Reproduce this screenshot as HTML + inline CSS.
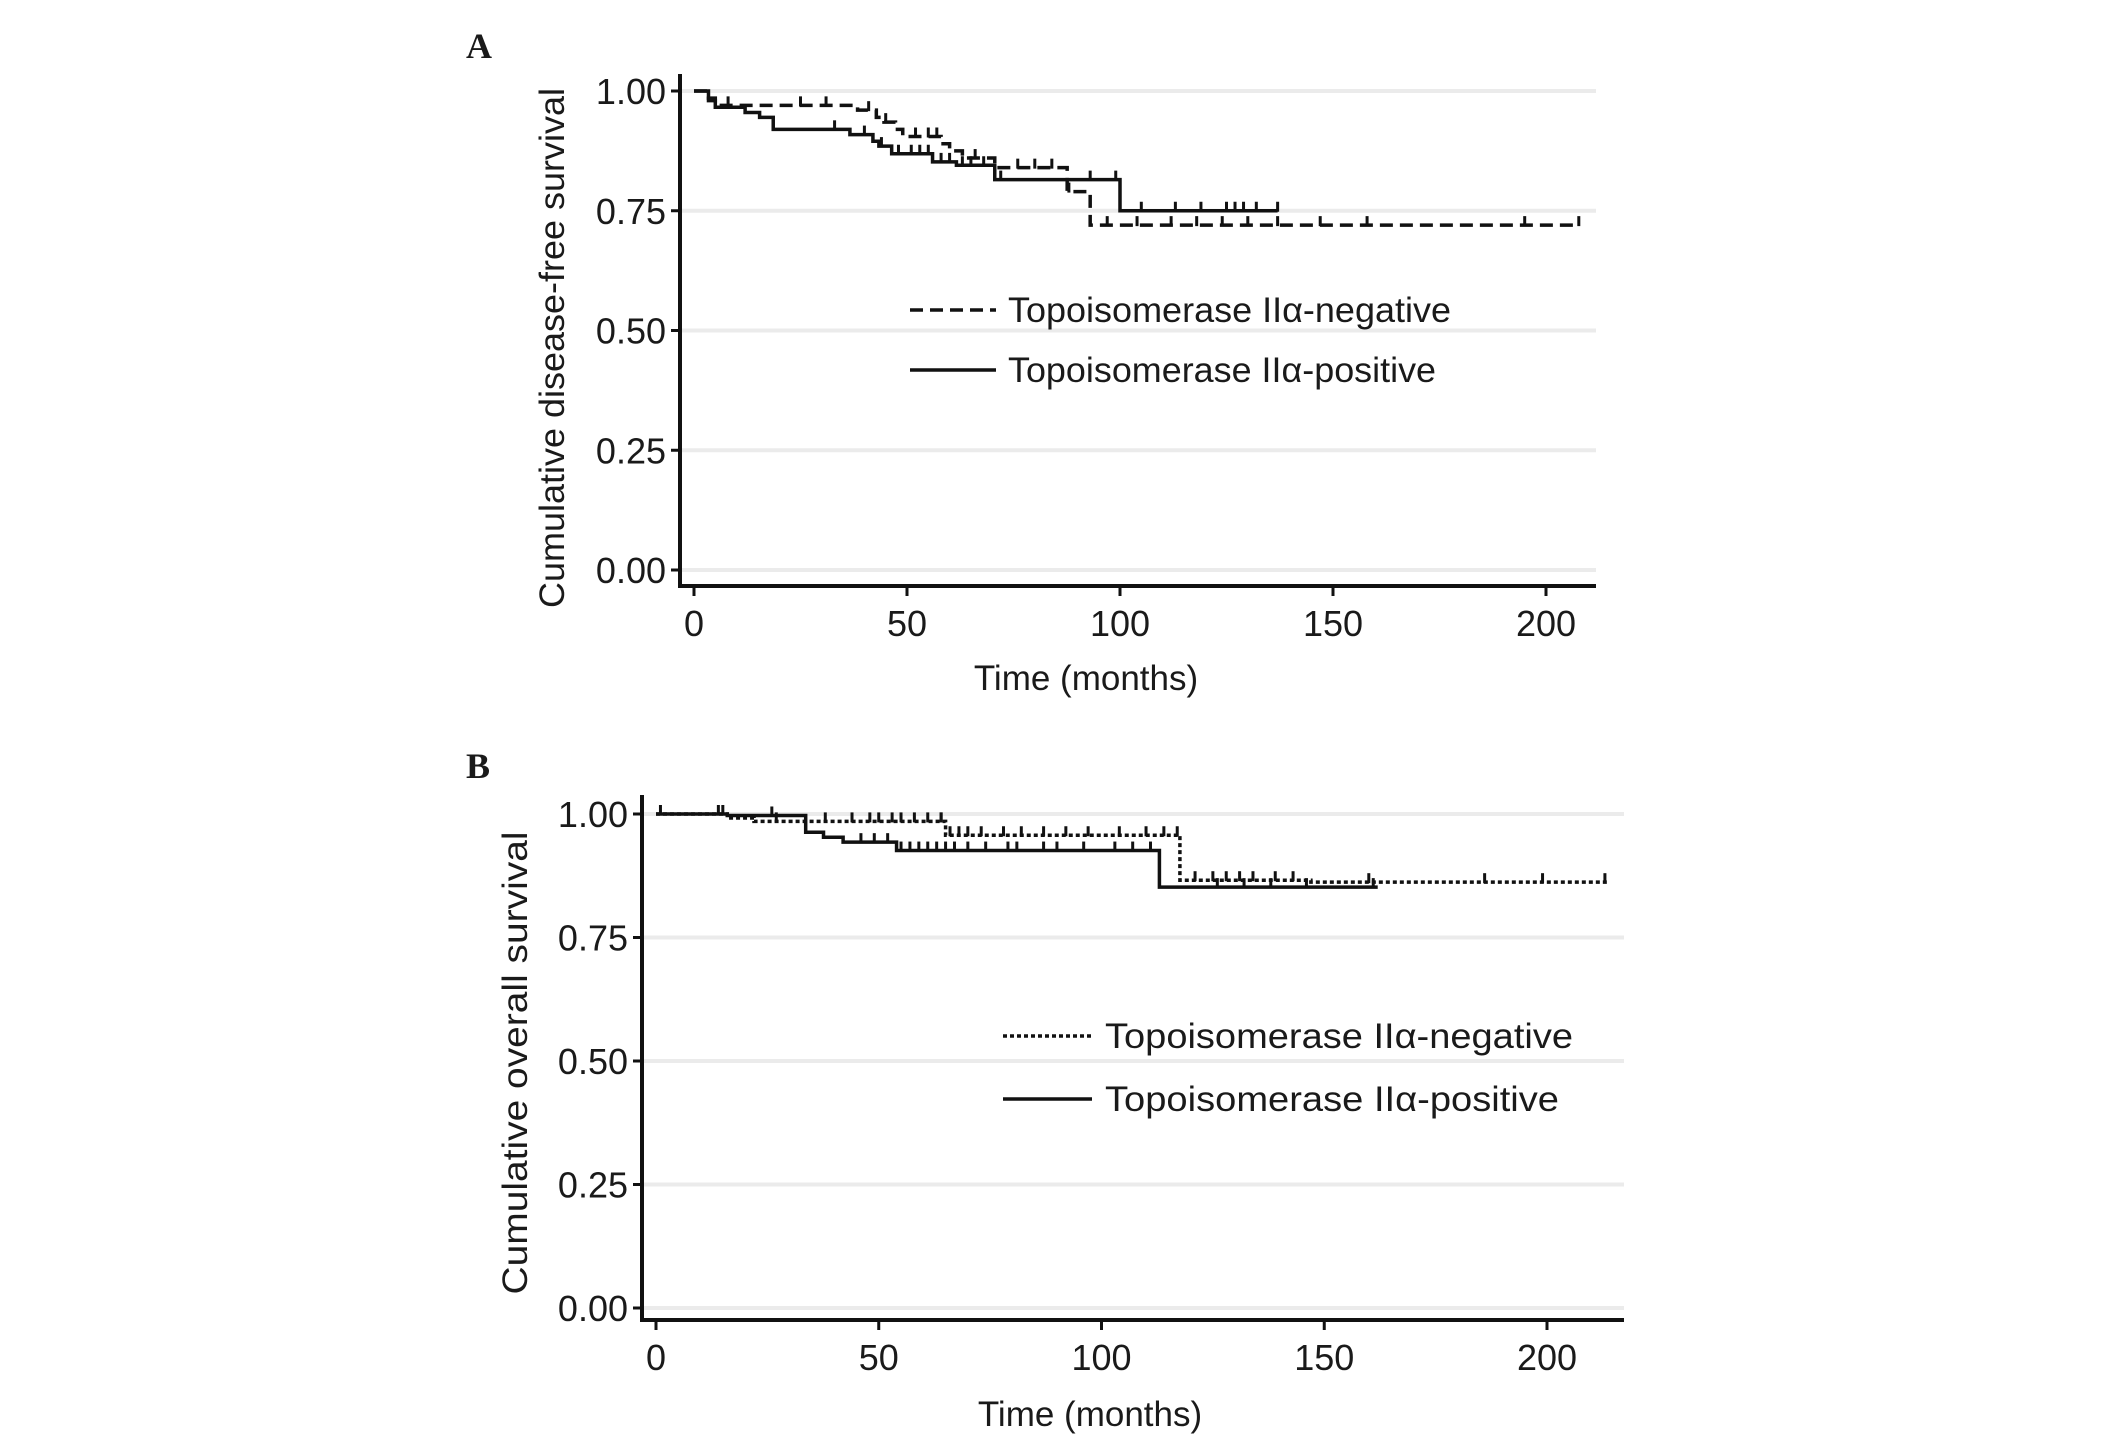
<!DOCTYPE html>
<html><head><meta charset="utf-8"><style>
html,body{margin:0;padding:0;background:#fff}
svg{display:block}
text{font-family:"Liberation Sans",Arial,sans-serif;fill:#1a1a1a}
</style></head><body>
<svg id="fig" width="2126" height="1442" viewBox="0 0 2126 1442"></svg>
<script>
// ---- Panel A data ----
const aTicksX = [0, 50, 100, 150, 200];
const aTicksY = [0, 0.25, 0.5, 0.75, 1.0];
const aTickLabelsY = ["0.00", "0.25", "0.50", "0.75", "1.00"];
const aNegTimes = [0, 3.4, 5, 38.4, 42.8, 44.6, 47.3, 49, 58, 60, 63, 70.6, 87.6, 93, 207.7];
const aNegSurv  = [1.0, 0.985, 0.97, 0.96, 0.945, 0.935, 0.92, 0.905, 0.89, 0.875, 0.86, 0.84, 0.79, 0.72, 0.72];
const aPosTimes = [0, 3.4, 5, 12, 15.4, 18.6, 36.6, 42, 43.4, 46.4, 56, 61.6, 70.6, 100, 137];
const aPosSurv  = [1.0, 0.98, 0.966, 0.955, 0.945, 0.92, 0.909, 0.895, 0.885, 0.869, 0.852, 0.845, 0.815, 0.75, 0.75];
const aNegCensor = [8, 25, 31, 41, 45, 52, 55, 57, 66, 76, 80, 84, 88, 97, 104, 112, 118, 124, 130, 137, 147, 158, 195, 207.7];
const aPosCensor = [33, 40, 44, 48, 51, 53, 55, 58, 60, 63, 65, 68, 72, 93, 99, 105, 113, 119, 125, 127, 129, 132, 137];
// ---- Panel B data ----
const bTicksX = [0, 50, 100, 150, 200];
const bTicksY = [0, 0.25, 0.5, 0.75, 1.0];
const bTickLabelsY = ["0.00", "0.25", "0.50", "0.75", "1.00"];
const bNegTimes = [0, 16, 22, 65, 117.6, 147, 214];
const bNegSurv  = [1.0, 0.992, 0.985, 0.957, 0.866, 0.862, 0.862];
const bPosTimes = [0, 16, 33.6, 37.6, 42, 54, 113, 162];
const bPosSurv  = [1.0, 0.997, 0.963, 0.953, 0.943, 0.926, 0.852, 0.852];
const bNegCensor = [1, 14, 27, 38, 44, 48, 50, 53, 55, 58, 61, 64, 66, 64, 68, 70, 73, 78, 82, 87, 92, 97, 104, 110, 114, 117, 121, 125, 128, 131, 134, 139, 143, 160, 186, 199, 213];
const bPosCensor = [15, 26, 46, 49, 52, 55, 57, 59, 61, 63, 65, 67, 70, 74, 79, 81, 87, 90, 96, 103, 107, 111, 126, 132, 138, 146, 161];

const NS = "http://www.w3.org/2000/svg";
const svg = document.getElementById('fig');
function mk(tag, attrs, parent) {
  const e = document.createElementNS(NS, tag);
  for (const k in attrs) e.setAttribute(k, attrs[k]);
  (parent || svg).appendChild(e);
  return e;
}

function panel(cfg) {
  const g = mk('g', {});
  
  
  const sx = t => cfg.x0 + t * cfg.pxPerMonth;
  const sy = v => cfg.y0 - v * cfg.pxPerUnit;
  cfg.ticksY.forEach((v, i) => {
    const l = mk('line', {x1: cfg.axisX, x2: cfg.xEnd, y1: sy(v), y2: sy(v), stroke: '#ebebeb', 'stroke-width': 4}, g);
    
    
  });
  cfg.ticksY.forEach((v, i) => {
    const tk = mk('line', {x1: cfg.axisX - 9, x2: cfg.axisX, y1: sy(v), y2: sy(v), stroke: '#111', 'stroke-width': 3}, g);
    
    
    const t = mk('text', {x: cfg.axisX - 14, y: sy(v) + 13, 'text-anchor': 'end', 'font-size': 36}, g);
    t.textContent = cfg.tickLabelsY[i];
    
    
  });
  cfg.ticksX.forEach(m => {
    const tk = mk('line', {x1: sx(m), x2: sx(m), y1: cfg.axisY, y2: cfg.axisY + 10, stroke: '#111', 'stroke-width': 3}, g);
    
    
    const t = mk('text', {x: sx(m), y: cfg.axisY + 50, 'text-anchor': 'middle', 'font-size': 36}, g);
    t.textContent = String(m);
    
    
  });
  const ya = mk('line', {x1: cfg.axisX, x2: cfg.axisX, y1: cfg.yTop, y2: cfg.axisY + 2, stroke: '#111', 'stroke-width': 4}, g);
  
  
  const xa = mk('line', {x1: cfg.axisX - 2, x2: cfg.xEnd, y1: cfg.axisY, y2: cfg.axisY, stroke: '#111', 'stroke-width': 4}, g);
  
  
  const xt = mk('text', {x: cfg.xTitleX, y: cfg.xTitleY, 'text-anchor': 'middle', 'font-size': 35}, g);
  xt.textContent = 'Time (months)';
  
  
  const yt = mk('text', {x: 0, y: 0, 'text-anchor': 'middle', 'font-size': 35, textLength: cfg.yTitleLen, lengthAdjust: 'spacingAndGlyphs', transform: `translate(${cfg.yTitleX},${cfg.yTitleY}) rotate(-90)`}, g);
  yt.textContent = cfg.yTitle;
  
  
  const pl = mk('text', {x: cfg.letterX, y: cfg.letterY, 'font-size': 36, 'font-weight': 'bold', style: 'font-family:"Liberation Serif",serif'}, g);
  pl.textContent = cfg.letter;
  
  
  function curve(times, surv, censor, dash, nm) {
    let d = `M${sx(times[0])},${sy(surv[0])}`;
    for (let i = 1; i < times.length; i++) {
      d += ` H${sx(times[i])} V${sy(surv[i])}`;
    }
    const p = mk('path', {d: d, fill: 'none', stroke: '#111', 'stroke-width': 3.5, 'stroke-dasharray': dash}, g);
    
    
    censor.forEach(c => {
      let v = surv[0];
      for (let i = 0; i < times.length; i++) if (times[i] <= c) v = surv[i];
      const cm = mk('line', {x1: sx(c), x2: sx(c), y1: sy(v) - 9, y2: sy(v) + 1, stroke: '#111', 'stroke-width': 3}, g);
      
      
    });
  }
  curve(cfg.negT, cfg.negS, cfg.negC, cfg.negDash, 'negative');
  curve(cfg.posT, cfg.posS, cfg.posC, 'none', 'positive');
  const lg = mk('g', {}, g);
  
  
  [[cfg.negDash, 'Topoisomerase IIα-negative', cfg.legY1, 'legend-entry-negative'],
   ['none', 'Topoisomerase IIα-positive', cfg.legY2, 'legend-entry-positive']].forEach(([dash, label, ly, nm], i) => {
    const ln = mk('line', {x1: cfg.legX1, x2: cfg.legX2, y1: ly, y2: ly, stroke: '#111', 'stroke-width': 3.5, 'stroke-dasharray': dash}, lg);
    
    
    const t = mk('text', {x: cfg.legTextX, y: ly + 12, 'font-size': 35, textLength: i === 0 ? cfg.legLen1 : cfg.legLen2, lengthAdjust: 'spacingAndGlyphs'}, lg);
    t.textContent = label;
    
    
  });
}

panel({
  name: 'panel-a', letter: 'A', letterX: 466, letterY: 58,
  x0: 694, pxPerMonth: 4.26, y0: 570, pxPerUnit: 479,
  axisX: 680, axisY: 586, yTop: 74, xEnd: 1596,
  ticksX: aTicksX, ticksY: aTicksY, tickLabelsY: aTickLabelsY,
  xTitleX: 1086, xTitleY: 690,
  yTitle: 'Cumulative disease-free survival', yTitleX: 564, yTitleY: 348, yTitleLen: 520,
  negT: aNegTimes, negS: aNegSurv, negC: aNegCensor, negDash: '13,7',
  posT: aPosTimes, posS: aPosSurv, posC: aPosCensor,
  legX1: 910, legX2: 996, legY1: 310, legY2: 370, legTextX: 1008, legLen1: 443, legLen2: 428
});

panel({
  name: 'panel-b', letter: 'B', letterX: 466, letterY: 778,
  x0: 656, pxPerMonth: 4.455, y0: 1308, pxPerUnit: 494,
  axisX: 642, axisY: 1320, yTop: 795, xEnd: 1624,
  ticksX: bTicksX, ticksY: bTicksY, tickLabelsY: bTickLabelsY,
  xTitleX: 1090, xTitleY: 1426,
  yTitle: 'Cumulative overall survival', yTitleX: 527, yTitleY: 1063, yTitleLen: 463,
  negT: bNegTimes, negS: bNegSurv, negC: bNegCensor, negDash: '4,3',
  posT: bPosTimes, posS: bPosSurv, posC: bPosCensor,
  legX1: 1003, legX2: 1092, legY1: 1036, legY2: 1099, legTextX: 1105, legLen1: 468, legLen2: 454
});
</script>
</body></html>
